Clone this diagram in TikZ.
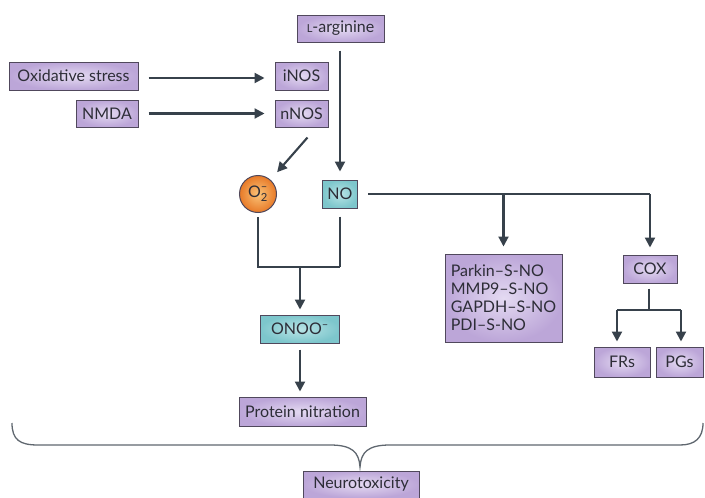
\documentclass[tikz,border=0pt]{standalone}
\usepackage{amsmath}
\usepackage{fontspec}
\setmainfont{Lato}
\usetikzlibrary{arrows.meta,calc,positioning}
\definecolor{txt}{RGB}{45,45,55}
\definecolor{ln}{RGB}{55,65,75}
\definecolor{pin}{RGB}{228,218,242}
\definecolor{pout}{RGB}{188,166,216}
\definecolor{pbd}{RGB}{80,72,92}
\definecolor{tin}{RGB}{185,228,230}
\definecolor{tout}{RGB}{125,198,204}
\definecolor{oin}{RGB}{250,195,120}
\definecolor{oout}{RGB}{232,122,40}
\tikzset{
  pbox/.style={draw=pbd,line width=1pt,inner color=pin,outer color=pout,text=txt,inner sep=0pt,font=\fontsize{16}{18}\selectfont},
  tbox/.style={draw=pbd,line width=1pt,inner color=tin,outer color=tout,text=txt,inner sep=0pt,font=\fontsize{16}{18}\selectfont},
  obox/.style={circle,draw=pbd,line width=1pt,inner color=oin,outer color=oout,text=txt,inner sep=0pt,minimum size=37pt,font=\fontsize{16}{18}\selectfont},
  arr/.style={draw=ln,line width=2.1pt,-{Triangle[length=10pt,width=10pt]}},
  ln/.style={draw=ln,line width=2.1pt},
  brace/.style={draw=ln!80,line width=1.3pt}
}
\begin{document}
\begin{tikzpicture}[x=1pt,y=-1pt]
\useasboundingbox (0,0) rectangle (705,498);
\node[pbox,minimum width=87pt,minimum height=27pt] (larg) at (340.5,28.5) {{\fontsize{11}{11}\selectfont L}-arginine};
\node[pbox,minimum width=129pt,minimum height=28pt] (oxs) at (73.5,76) {Oxidative stress};
\node[pbox,minimum width=53pt,minimum height=28pt] (inos) at (301.5,76) {iNOS};
\node[pbox,minimum width=62pt,minimum height=27pt] (nmda) at (107,113.5) {NMDA};
\node[pbox,minimum width=53pt,minimum height=27pt] (nnos) at (301.5,113.5) {nNOS};
\node[obox] (o2) at (258,194) {$\text{O}_{\text{2}}^{\text{--}}$};
\node[tbox,minimum width=35pt,minimum height=28pt] (no) at (340,194) {NO};
\node[tbox,minimum width=79pt,minimum height=28pt] (onoo) at (300,329) {ONOO$^{\text{--}}$};
\node[pbox,minimum width=127pt,minimum height=29pt] (prot) at (302.5,411.5) {Protein nitration};
\node[pbox,minimum width=117pt,minimum height=88pt,align=left,font=\fontsize{16}{18}\selectfont] (park) at (503.5,298) {Parkin–S-NO\\MMP9–S-NO\\GAPDH–S-NO\\PDI–S-NO};
\node[pbox,minimum width=54pt,minimum height=28pt] (cox) at (650,269) {COX};
\node[pbox,minimum width=56pt,minimum height=30pt] (frs) at (622,362) {FRs};
\node[pbox,minimum width=47pt,minimum height=30pt] (pgs) at (679.5,362) {PGs};
\node[pbox,minimum width=116pt,minimum height=27pt] (neuro) at (361,484.5) {Neurotoxicity};
% arrows
\draw[arr,shorten <=10pt,shorten >=10pt] (oxs.east |- 0,78) -- (inos.west |- 0,78);
\draw[arr,shorten <=10pt,shorten >=10pt] (nmda.east) -- (nnos.west);
\coordinate (nn1) at ($(nnos.south)+(6,10)$);
\draw[arr,shorten >=10pt] (nn1) -- (o2);
\draw[arr,shorten <=8pt,shorten >=8pt] (larg.south -| no.north) -- (no.north);
\coordinate (j1) at (o2.south |- 0,267);
\coordinate (j2) at (no.south |- 0,267);
\coordinate (j3) at (onoo.north |- 0,267);
\draw[ln,shorten <=4pt] (o2.south) -- (j1) -- (j2);
\draw[ln,shorten <=8pt] (no.south) -- (j2);
\draw[arr,shorten >=5pt] (j3) -- (onoo.north);
\draw[arr,shorten <=6pt,shorten >=5pt] (onoo.south) -- (onoo.south |- prot.north);
\coordinate (k1) at (cox.north |- no.east);
\coordinate (k2) at (park.north |- no.east);
\draw[ln,shorten <=10pt] (no.east) -- (k1);
\draw[arr,shorten >=7pt] (k1) -- (cox.north);
\draw[arr,shorten >=7pt] (k2) -- (park.north);
\coordinate (c1) at (649,310);
\coordinate (c2) at (617,310);
\coordinate (c3) at (681,310);
\draw[ln,shorten <=5pt] (c1 |- cox.south) -- (c1);
\draw[ln] (c2) -- (c3);
\draw[arr,shorten >=5pt] (c2) -- (c2 |- frs.north);
\draw[arr,shorten >=5pt] (c3) -- (c3 |- pgs.north);
% brace
\draw[brace] (12,423) .. controls (12,440) and (20,445) .. (38,445) -- (330,445)
  .. controls (352,445) and (359,452) .. (360,467)
  .. controls (361,452) and (368,445) .. (390,445) -- (680,445)
  .. controls (695,445) and (703,438) .. (703,423);
\end{tikzpicture}
\end{document}
